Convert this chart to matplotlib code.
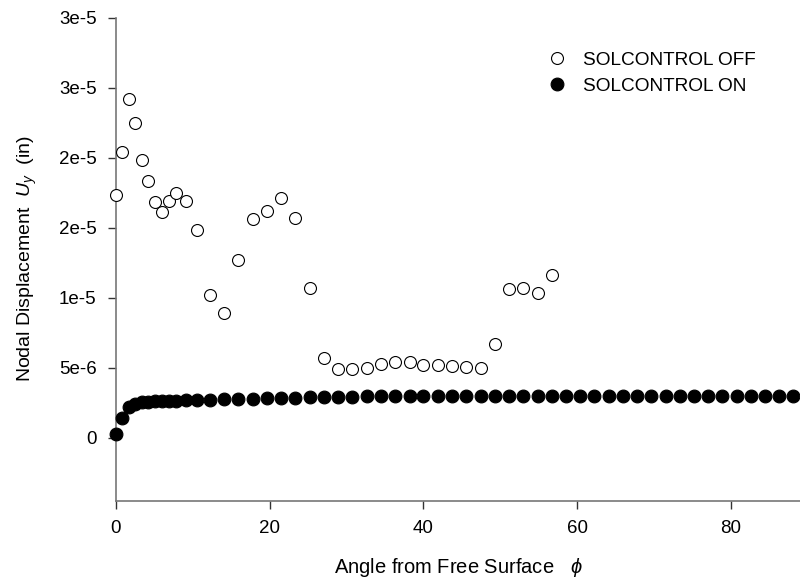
import matplotlib
matplotlib.use("Agg")
import matplotlib.pyplot as plt
from matplotlib.lines import Line2D

plt.rcParams['font.family'] = ['Liberation Sans', 'DejaVu Sans']
plt.rcParams['mathtext.fontset'] = 'custom'
plt.rcParams['mathtext.it'] = 'Liberation Sans:italic'
plt.rcParams['mathtext.rm'] = 'Liberation Sans'

# SOLCONTROL OFF (open circles)
off_x = [0, 0.8, 1.7, 2.5, 3.35, 4.2, 5.05, 5.95, 6.85, 7.85, 9.1, 10.6,
         12.25, 14.05, 15.9, 17.8, 19.65, 21.5, 23.35, 25.2, 27.0, 28.85,
         30.7, 32.6, 34.45, 36.3, 38.2, 40.0, 41.85, 43.7, 45.6, 47.45,
         49.3, 51.15, 53.0, 54.85, 56.7]
off_y = [1.73e-5, 2.04e-5, 2.42e-5, 2.25e-5, 1.98e-5, 1.83e-5, 1.68e-5,
         1.61e-5, 1.69e-5, 1.75e-5, 1.69e-5, 1.48e-5, 1.02e-5, 8.9e-6,
         1.27e-5, 1.56e-5, 1.62e-5, 1.71e-5, 1.57e-5, 1.07e-5, 5.66e-6,
         4.87e-6, 4.87e-6, 4.99e-6, 5.23e-6, 5.42e-6, 5.37e-6, 5.18e-6,
         5.18e-6, 5.13e-6, 5.04e-6, 4.94e-6, 6.68e-6, 1.06e-5, 1.07e-5,
         1.03e-5, 1.16e-5]

# SOLCONTROL ON (filled circles)
on_x = [0, 0.8, 1.7, 2.5, 3.35, 4.2, 5.05, 5.95, 6.85, 7.85, 9.1, 10.6,
        12.25, 14.05, 15.9, 17.8, 19.65, 21.5, 23.35, 25.2, 27.0, 28.85,
        30.7, 32.6, 34.45, 36.3, 38.2, 40.0, 41.85, 43.7, 45.6, 47.45,
        49.3, 51.15, 53.0, 54.85, 56.7, 58.55, 60.4, 62.25, 64.1, 65.95,
        67.8, 69.65, 71.5, 73.35, 75.2, 77.05, 78.9, 80.75, 82.6, 84.45,
        86.3, 88.15]
on_y = [2.3e-7, 1.37e-6, 2.16e-6, 2.39e-6, 2.51e-6, 2.56e-6, 2.59e-6,
        2.59e-6, 2.61e-6, 2.61e-6, 2.66e-6, 2.68e-6, 2.70e-6, 2.73e-6,
        2.75e-6, 2.77e-6, 2.80e-6, 2.82e-6, 2.84e-6, 2.87e-6, 2.89e-6,
        2.91e-6, 2.91e-6, 2.94e-6, 2.94e-6, 2.96e-6, 2.96e-6, 2.97e-6,
        2.97e-6, 2.97e-6, 2.98e-6, 2.98e-6, 2.98e-6, 2.99e-6, 2.99e-6,
        2.99e-6, 2.99e-6, 3.0e-6, 3.0e-6, 3.0e-6, 3.0e-6, 3.0e-6, 3.0e-6,
        3.0e-6, 3.0e-6, 3.0e-6, 3.0e-6, 3.0e-6, 3.0e-6, 3.0e-6, 3.0e-6,
        3.0e-6, 3.0e-6, 3.0e-6]

x_ticks = [0, 20, 40, 60, 80]
y_ticks = [0, 5e-6, 1e-5, 1.5e-5, 2e-5, 2.5e-5, 3e-5]
y_tick_labels = ['0', '5e-6', '1e-5', '2e-5', '2e-5', '3e-5', '3e-5']

fig = plt.figure(figsize=(8.0, 5.86), dpi=100)
ax = fig.add_axes([116/800, 85.5/586, 684/800, 483/586])

ax.plot(off_x, off_y, linestyle='none', marker='o', ms=8.6,
        mfc='white', mec='black', mew=0.8, clip_on=False, zorder=3)
ax.plot(on_x, on_y, linestyle='none', marker='o', ms=9.2,
        mfc='black', mec='black', mew=0.8, clip_on=False, zorder=3)

ax.set_xlim(0, 89)
ax.set_ylim(-4.5e-6, 3e-5)
ax.set_xticks(x_ticks)
ax.set_xticklabels([str(t) for t in x_ticks])
ax.set_yticks(y_ticks)
ax.set_yticklabels(y_tick_labels)

for s in ['top', 'right']:
    ax.spines[s].set_visible(False)
for s in ['left', 'bottom']:
    ax.spines[s].set_color('#777777')
    ax.spines[s].set_linewidth(1.2)
ax.tick_params(direction='out', length=6, width=1.0, color='#333333',
               labelsize=13.5, pad=8)

ax.set_xlabel(r'Angle from Free Surface   $\phi$', fontsize=14.5, labelpad=14)
ax.set_ylabel(r'Nodal Displacement  $U_y$  (in)', fontsize=14, labelpad=14)

handles = [
    Line2D([], [], linestyle='none', marker='o', ms=8.6, mfc='white',
           mec='black', mew=0.8),
    Line2D([], [], linestyle='none', marker='o', ms=9.2, mfc='black',
           mec='black', mew=0.8),
]
ax.legend(handles, ['SOLCONTROL OFF', 'SOLCONTROL ON'], loc='upper left',
          bbox_to_anchor=(538/800, 1 - 44/586), bbox_transform=fig.transFigure,
          frameon=False, fontsize=13.7, handletextpad=0.75, labelspacing=0.46,
          borderaxespad=0, handlelength=1.2)

fig.savefig('out.png', dpi=100)
